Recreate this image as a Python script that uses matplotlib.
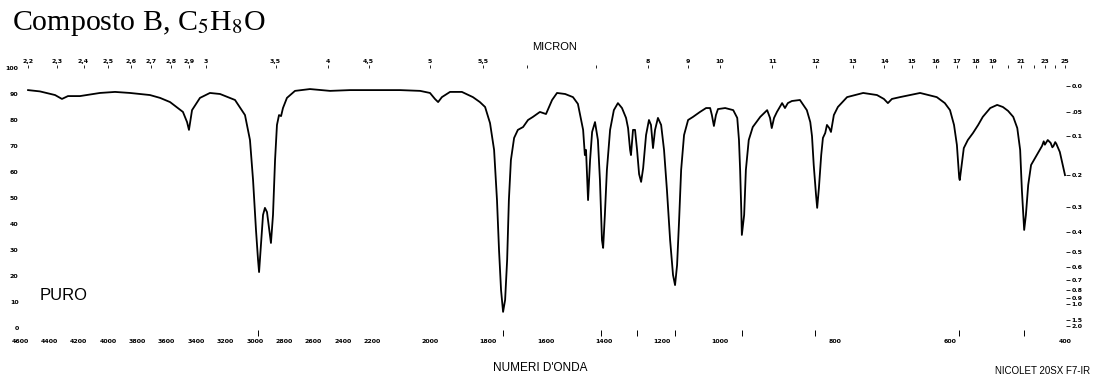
import numpy as np
import matplotlib
matplotlib.use("Agg")
import matplotlib.pyplot as plt

plt.rcParams["mathtext.fontset"] = "stix"

# IR spectrum: wavenumber (cm-1) vs transmittance (%)
wavenumber = [
    4545, 4464, 4361, 4314, 4273, 4191, 4055, 3952, 3850, 3714, 3645, 3577, 3523,
    3489, 3461, 3448, 3427, 3373, 3305, 3236, 3134, 3066, 3032, 3011, 2991, 2977,
    2970, 2957, 2943, 2930, 2916, 2902, 2889, 2875, 2861, 2848, 2834, 2820, 2807,
    2780, 2725, 2623, 2486, 2350,
    2155, 2103, 2034, 2000, 1983, 1972, 1959, 1931, 1890, 1852, 1828, 1810, 1793,
    1779, 1769, 1762, 1755, 1748, 1741, 1734, 1728, 1721, 1710, 1697, 1679, 1662,
    1645, 1621, 1600, 1579, 1562, 1534, 1507, 1490, 1472, 1466, 1462, 1455, 1448,
    1441, 1431, 1421, 1414, 1407, 1403, 1397, 1390, 1379, 1366, 1352, 1338, 1324,
    1317, 1310, 1307, 1300, 1293, 1286, 1279, 1272, 1265, 1255, 1245, 1238, 1231,
    1224, 1214, 1203, 1193, 1183, 1172, 1162, 1155, 1148, 1141, 1134, 1124, 1110,
    1093, 1069, 1048, 1034, 1028, 1021, 1014, 1007,
    991, 977, 970, 967, 965, 963, 962, 958, 955, 950, 943, 930, 918, 913, 910, 906,
    901, 892, 887, 882, 875, 861, 849, 843, 840, 837, 833, 831, 828, 824, 821, 817,
    814, 810, 807, 802, 795, 779, 751, 727, 715, 708, 701, 687, 652, 623, 609, 600,
    593, 588, 584, 583, 579, 576, 569, 560, 551, 543, 530, 518, 508, 499, 490, 483,
    478, 475, 471, 468, 464, 459, 452, 444, 440, 437, 435, 430, 425, 422, 420, 417,
    415, 409, 404, 400,
]
transmittance = [
    91.5, 91.0, 89.6, 88.1, 89.2, 89.2, 90.4, 90.8, 90.4, 89.6, 88.5, 86.9, 84.6,
    83.1, 79.2, 76.2, 83.8, 88.5, 90.4, 90.0, 87.7, 81.9, 72.3, 56.9, 37.7, 26.2,
    21.5, 31.9, 43.5, 46.2, 44.6, 38.5, 32.7, 43.5, 64.6, 78.1, 81.9, 81.5, 84.6,
    88.5, 91.2, 91.9, 91.2, 91.5,
    91.5, 91.5, 91.2, 90.4, 88.1, 86.9, 88.8, 90.8, 90.8, 88.8, 86.9, 85.0, 78.8,
    68.5, 49.2, 30.0, 14.6, 6.2, 10.8, 26.2, 49.2, 64.6, 73.1, 76.2, 77.3, 80.0,
    81.2, 83.1, 82.3, 87.7, 90.4, 90.0, 88.8, 86.2, 76.2, 66.5, 68.5, 49.2, 64.6,
    75.4, 79.2, 72.3, 56.9, 33.8, 30.8, 43.5, 60.8, 76.2, 83.8, 86.5, 84.6, 80.8,
    76.9, 68.5, 66.5, 76.2, 76.2, 68.5, 59.2, 56.2, 61.5, 74.2, 80.0, 78.1, 69.2,
    76.2, 80.8, 78.1, 68.5, 53.1, 33.8, 20.4, 16.5, 24.2, 41.5, 60.8, 74.2, 80.0,
    81.2, 83.1, 84.6, 84.6, 81.9, 77.7, 81.9, 84.2,
    84.6, 83.8, 80.8, 72.3, 60.8, 45.4, 35.8, 43.5, 60.8, 72.3, 77.3, 81.2, 83.8,
    80.8, 76.9, 80.8, 83.1, 86.5, 84.6, 86.5, 87.3, 87.7, 83.8, 79.2, 73.8, 62.7,
    51.2, 46.2, 53.8, 66.5, 73.1, 75.0, 78.1, 76.9, 75.4, 81.9, 85.0, 88.8, 90.4,
    89.6, 88.1, 86.5, 88.1, 88.8, 90.4, 88.8, 86.5, 83.8, 78.1, 70.4, 57.7, 56.9,
    63.8, 69.2, 72.3, 75.0, 78.1, 81.2, 84.6, 85.8, 85.0, 83.5, 81.2, 76.9, 68.5,
    53.1, 37.7, 43.5, 55.0, 62.7, 65.4, 68.5, 70.0, 71.8, 70.5, 72.3, 71.2, 69.5,
    70.0, 71.5, 70.8, 67.7, 62.7, 58.8,
]

# instrument peak markers printed under the axis
peak_marks = [2975, 1748, 1412, 1285, 1155, 961, 834, 584, 471]

bottom_ticks = [4600, 4400, 4200, 4000, 3800, 3600, 3400, 3200, 3000, 2800, 2600,
                2400, 2200, 2000, 1800, 1600, 1400, 1200, 1000, 800, 600, 400]
left_ticks = [0, 10, 20, 30, 40, 50, 60, 70, 80, 90, 100]

micron_ticks = [2.2, 2.3, 2.4, 2.5, 2.6, 2.7, 2.8, 2.9, 3, 3.5, 4, 4.5, 5, 5.5, 6, 7,
                8, 9, 10, 11, 12, 13, 14, 15, 16, 17, 18, 19, 21, 23, 25]
micron_labels = ["2,2", "2,3", "2,4", "2,5", "2,6", "2,7", "2,8", "2,9", "3", "3,5",
                 "4", "4,5", "5", "5,5", "", "", "8", "9", "10", "11", "12", "13",
                 "14", "15", "16", "17", "18", "19", "21", "23", "25"]
micron_minor = [20, 22, 24]

absorb_ticks = [0.0, 0.05, 0.1, 0.2, 0.3, 0.4, 0.5, 0.6, 0.7, 0.8, 0.9, 1.0, 1.5, 2.0]
absorb_labels = ["0.0", ".05", "0.1", "0.2", "0.3", "0.4", "0.5", "0.6", "0.7",
                 "0.8", "0.9", "1.0", "1.5", "2.0"]
T_ZERO_ABS = 93.0

# chart paper: three linear pieces (4600-2200, 2200-1000, 1000-400 cm-1)
BREAK_WN = [350, 400, 1000, 2200, 4600, 4700]
BREAK_U = [1093.75, 1065, 720, 372, 20, 5.33]


def paper_u(w):
    return np.interp(w, BREAK_WN, BREAK_U)


# negated so the scale increases with wavenumber; xlim then runs high -> low
def fwd(w):
    return -paper_u(w)


def inv(v):
    return np.interp(-np.asarray(v), BREAK_U[::-1], BREAK_WN[::-1])


W, H = 1093, 383
XMIN, XMAX = 4600, 398
left_px, right_px = paper_u(XMIN), paper_u(XMAX)
top_px, bot_px = 68, 328

fig = plt.figure(figsize=(W / 100, H / 100), dpi=100)
ax = fig.add_axes([left_px / W, 1 - bot_px / H, (right_px - left_px) / W,
                   (bot_px - top_px) / H])
ax.set_xscale("function", functions=(fwd, inv))
ax.set_xlim(XMIN, XMAX)
ax.set_ylim(0, 100)

ax.plot(wavenumber, transmittance, color="black", lw=1.3, solid_joinstyle="round")
ax.vlines(peak_marks, -3.0, -0.9, color="black", lw=0.7, clip_on=False)

tick_font = dict(fontsize=4.5, fontweight="bold")
ax.set_xticks(bottom_ticks)
ax.set_xticklabels([str(t) for t in bottom_ticks], **tick_font)
ax.set_yticks(left_ticks)
ax.set_yticklabels([str(t) for t in left_ticks], **tick_font)
ax.tick_params(axis="x", length=0, pad=8)
ax.tick_params(axis="y", length=0, pad=1)

top = ax.twiny()
top.set_xscale("function", functions=(fwd, inv))
top.set_xlim(XMIN, XMAX)
top.set_xticks([1e4 / m for m in micron_ticks])
top.set_xticklabels(micron_labels, **tick_font)
top.set_xticks([1e4 / m for m in micron_minor], minor=True)
top.tick_params(axis="x", which="both", length=2, width=0.6, pad=1)

right = ax.twinx()
right.set_ylim(0, 100)
right.set_yticks([T_ZERO_ABS * 10 ** (-a) for a in absorb_ticks])
right.set_yticklabels(absorb_labels, **tick_font)
right.tick_params(axis="y", length=3, width=0.6, pad=1)

for a in (ax, top, right):
    for s in a.spines.values():
        s.set_visible(False)

fig.text(12 / W, 1 - 24 / H, "Composto B, C$_5$H$_8$O", fontsize=21.5,
         family="Liberation Serif", va="center")
fig.text(555 / W, 1 - 47 / H, "MICRON", fontsize=8, family="Liberation Sans",
         ha="center", va="center")
fig.text(40 / W, 1 - 296 / H, "PURO", fontsize=12, family="Liberation Sans",
         va="center")
fig.text(540 / W, 1 - 368 / H, "NUMERI D'ONDA", fontsize=8.5,
         family="Liberation Sans", ha="center", va="center")
fig.text(1090 / W, 1 - 371 / H, "NICOLET 20SX F7-IR", fontsize=7,
         family="Liberation Sans", ha="right", va="center")

fig.savefig("out.png", dpi=100)
